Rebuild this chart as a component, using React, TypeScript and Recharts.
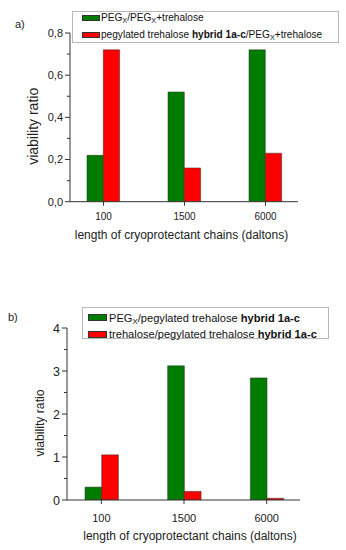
import { BarChart, Bar, XAxis, YAxis, Legend, Label } from 'recharts';

// x categories (chain length, daltons)
const categories = ['100', '1500', '6000'];

// panel a
const pegA = [0.22, 0.52, 0.72];
const hybridA = [0.72, 0.16, 0.23];
const namesA = ['PEGX/PEGX+trehalose', 'pegylated trehalose hybrid 1a-c/PEGX+trehalose'];
const yTicksA = [0, 0.1, 0.2, 0.3, 0.4, 0.5, 0.6, 0.7, 0.8];
const yMajorA = [0, 0.2, 0.4, 0.6, 0.8];

// panel b
const pegB = [0.3, 3.12, 2.84];
const trehB = [1.05, 0.2, 0.04];
const namesB = ['PEGX/pegylated trehalose hybrid 1a-c', 'trehalose/pegylated trehalose hybrid 1a-c'];
const yTicksB = [0, 0.5, 1, 1.5, 2, 2.5, 3, 3.5, 4];
const yMajorB = [0, 1, 2, 3, 4];

const GREEN = '#007d00';
const RED = '#ff0000';
const AXIS = '#333';
const FONT = '"Liberation Sans", Arial, sans-serif';

const dataA = categories.map((c, i) => ({ cat: c, s1: pegA[i], s2: hybridA[i] }));
const dataB = categories.map((c, i) => ({ cat: c, s1: pegB[i], s2: trehB[i] }));

// "PEGX" -> PEG with subscript X, "hybrid 1a-c" in bold
function RichName({ text }: { text: string }) {
  return (
    <>
      {text.split(/(PEGX|hybrid 1a-c)/).map((part, i) => {
        if (part === 'PEGX')
          return (
            <span key={i}>
              PEG<sub style={{ fontSize: '0.72em', verticalAlign: '-0.3em', lineHeight: 0 }}>X</sub>
            </span>
          );
        if (part === 'hybrid 1a-c') return <b key={i}>{part}</b>;
        return <span key={i}>{part}</span>;
      })}
    </>
  );
}

function LegendBox(props: any) {
  const { payload, width, height, fontSize, rows, swX, swW, swH, textX } = props;
  return (
    <div
      style={{
        position: 'relative',
        width,
        height,
        border: '1px solid #b8b8b8',
        boxSizing: 'border-box',
        background: '#fff',
        fontFamily: FONT,
        fontSize,
        color: '#111',
      }}
    >
      {(payload || []).map((entry: any, i: number) => (
        <div key={i} style={{ position: 'absolute', left: 0, top: rows[i] - 8, height: 16, width: '100%' }}>
          <div
            style={{
              position: 'absolute',
              left: swX,
              top: 8 - swH / 2,
              width: swW,
              height: swH,
              background: entry.color,
              border: '0.5px solid #333',
              boxSizing: 'border-box',
            }}
          />
          <div style={{ position: 'absolute', left: textX, top: 0, height: 16, lineHeight: '16px', whiteSpace: 'nowrap' }}>
            <RichName text={entry.value} />
          </div>
        </div>
      ))}
    </div>
  );
}

function YTick(props: any) {
  const { x, y, payload, majors, fontSize, fmt } = props;
  const v = payload.value;
  const major = majors.includes(v);
  return (
    <g>
      <line x1={x - (major ? 5 : 3)} x2={x} y1={y} y2={y} stroke={AXIS} strokeWidth={1} />
      {major && (
        <text x={x - 7} y={y} dy="0.36em" textAnchor="end" fontSize={fontSize} fontFamily={FONT} fill="#222">
          {fmt(v)}
        </text>
      )}
    </g>
  );
}

function XTick(props: any) {
  const { x, y, payload, fontSize, dy } = props;
  return (
    <g>
      <line x1={x} x2={x} y1={y} y2={y + 4} stroke={AXIS} strokeWidth={1} />
      <text x={x} y={y + dy} textAnchor="middle" fontSize={fontSize} fontFamily={FONT} fill="#222">
        {payload.value}
      </text>
    </g>
  );
}

function Panel(props: any) {
  const { data, names, height, margin, yWidth, xHeight, domain, ticks, majors, fmt, pad, barSize,
    yFont, xFont, xTickDy, xLabelDx, xLabelDy, yLabelX, yLabelDy, yLabelFont, legend } = props;
  return (
    <BarChart width={346} height={height} data={data} margin={margin} barGap={0}>
      <XAxis
        dataKey="cat"
        height={xHeight}
        padding={pad}
        axisLine={{ stroke: AXIS }}
        tickLine={false}
        tickSize={0}
        tickMargin={0}
        interval={0}
        tick={(p: any) => <XTick {...p} fontSize={xFont} dy={xTickDy} />}
      >
        <Label
          content={(lp: any) => {
            const vb = lp.viewBox;
            return (
              <text x={vb.x + xLabelDx} y={vb.y + xLabelDy} textAnchor="middle" fontSize={12} fontFamily={FONT} fill="#222">
                length of cryoprotectant chains (daltons)
              </text>
            );
          }}
        />
      </XAxis>
      <YAxis
        type="number"
        domain={domain}
        ticks={ticks}
        interval={0}
        width={yWidth}
        axisLine={{ stroke: AXIS }}
        tickLine={false}
        tickSize={0}
        tickMargin={0}
        allowDataOverflow
        tick={(p: any) => <YTick {...p} majors={majors} fontSize={yFont} fmt={fmt} />}
      >
        <Label
          content={(lp: any) => {
            const vb = lp.viewBox;
            const cy = vb.y + vb.height / 2 + yLabelDy;
            return (
              <text
                x={yLabelX}
                y={cy}
                transform={`rotate(-90 ${yLabelX} ${cy})`}
                textAnchor="middle"
                dominantBaseline="central"
                fontSize={yLabelFont}
                fontFamily={FONT}
                fill="#222"
              >
                viability ratio
              </text>
            );
          }}
        />
      </YAxis>
      <Legend
        layout="vertical"
        align="center"
        verticalAlign="middle"
        wrapperStyle={{ left: legend.left, top: legend.top }}
        content={(lp: any) => <LegendBox {...lp} {...legend} />}
      />
      <Bar dataKey="s1" name={names[0]} fill={GREEN} stroke="#2a2a2a" strokeWidth={0.5} barSize={barSize} isAnimationActive={false} />
      <Bar dataKey="s2" name={names[1]} fill={RED} stroke="#2a2a2a" strokeWidth={0.5} barSize={barSize} isAnimationActive={false} />
    </BarChart>
  );
}

export default function App() {
  return (
    <div style={{ position: 'absolute', left: 0, top: 0, width: 346, height: 550, background: '#fff', fontFamily: FONT }}>
      <div style={{ position: 'absolute', left: 15, top: 18, fontSize: 11, color: '#222' }}>a)</div>
      <div style={{ position: 'absolute', left: 8, top: 311, fontSize: 11, color: '#222' }}>b)</div>
      <div style={{ position: 'absolute', left: 0, top: 0 }}>
        <Panel
          data={dataA}
          names={namesA}
          height={262}
          margin={{ top: 33, right: 48, left: 0, bottom: 0 }}
          yWidth={70}
          xHeight={60.3}
          domain={[0, 0.8]}
          ticks={yTicksA}
          majors={yMajorA}
          fmt={(v: number) => v.toFixed(1).replace('.', ',')}
          pad={{ left: -7, right: -8 }}
          barSize={16.3}
          yFont={11}
          xFont={10}
          xTickDy={17.8}
          xLabelDx={111.5}
          xLabelDy={37.6}
          yLabelX={33}
          yLabelDy={9}
          yLabelFont={14}
          legend={{ left: 72, top: 11, width: 267, height: 32, fontSize: 10.1, rows: [6.3, 22.8], swX: 9, swW: 18, swH: 6, textX: 28 }}
        />
      </div>
      <div style={{ position: 'absolute', left: 0, top: 262 }}>
        <Panel
          data={dataB}
          names={namesB}
          height={288}
          margin={{ top: 66, right: 46, left: 0, bottom: 0 }}
          yWidth={67}
          xHeight={50}
          domain={[0, 4]}
          ticks={yTicksB}
          majors={yMajorB}
          fmt={(v: number) => String(v)}
          pad={{ left: -7, right: -8 }}
          barSize={16.7}
          yFont={12.5}
          xFont={11}
          xTickDy={21.6}
          xLabelDx={123}
          xLabelDy={40.3}
          yLabelX={40}
          yLabelDy={9}
          yLabelFont={12.2}
          legend={{ left: 82, top: 45, width: 247, height: 32, fontSize: 11.1, rows: [9.5, 26], swX: 5, swW: 19, swH: 7, textX: 26 }}
        />
      </div>
    </div>
  );
}
